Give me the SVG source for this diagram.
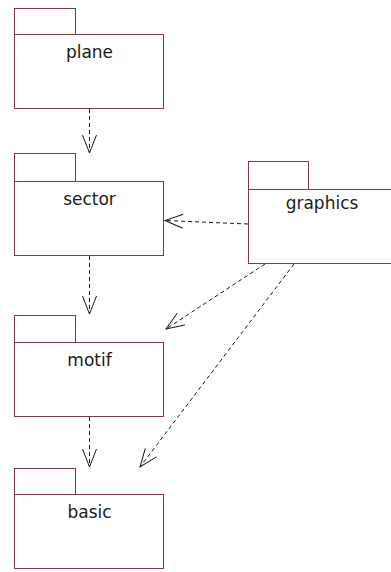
<svg xmlns="http://www.w3.org/2000/svg" width="391" height="572" viewBox="0 0 391 572">
  <style>
    .pkg rect { fill: #ffffff; stroke: #7f3a44; stroke-width: 1; }
    .pkg text { font-family: "DejaVu Sans", "Liberation Sans", sans-serif; font-size: 17px; fill: #1a1a1a; text-anchor: middle; }
    .dep { fill: none; stroke: #1a1a1a; stroke-width: 1; stroke-dasharray: 4,3; }
  </style>
  <defs>
    <marker id="open" markerUnits="userSpaceOnUse" markerWidth="20" markerHeight="16" refX="18" refY="8" orient="auto" overflow="visible">
      <path d="M0,1 L18,8 L0,15" fill="none" stroke="#1a1a1a" stroke-width="1"/>
    </marker>
  </defs>
  <rect width="391" height="572" fill="#ffffff"/>

  <g id="plane" class="pkg">
    <rect x="14.5" y="8.5" width="61" height="26"/>
    <rect x="14.5" y="34.5" width="149" height="74"/>
    <text x="89.5" y="57.5">plane</text>
  </g>
  <g id="sector" class="pkg">
    <rect x="14.5" y="153.5" width="61" height="28"/>
    <rect x="14.5" y="181.5" width="149" height="74"/>
    <text x="89.5" y="204.5">sector</text>
  </g>
  <g id="motif" class="pkg">
    <rect x="14.5" y="315.5" width="61" height="27"/>
    <rect x="14.5" y="342.5" width="149" height="74"/>
    <text x="89.5" y="365.5">motif</text>
  </g>
  <g id="basic" class="pkg">
    <rect x="14.5" y="468.5" width="61" height="26"/>
    <rect x="14.5" y="494.5" width="149" height="74"/>
    <text x="89.5" y="517.5">basic</text>
  </g>
  <g id="graphics" class="pkg">
    <rect x="248.5" y="161.5" width="60" height="28"/>
    <rect x="248.5" y="189.5" width="150" height="74"/>
    <text x="322" y="209">graphics</text>
  </g>

  <g id="connectors">
    <line class="dep" x1="89.5" y1="109" x2="89.5" y2="153" marker-end="url(#open)"/>
    <line class="dep" x1="89.5" y1="256" x2="89.5" y2="314" marker-end="url(#open)"/>
    <line class="dep" x1="89.5" y1="417" x2="89.5" y2="467" marker-end="url(#open)"/>
    <line class="dep" x1="248" y1="224" x2="165" y2="220.5" marker-end="url(#open)"/>
    <line class="dep" x1="265" y1="264" x2="166" y2="329" marker-end="url(#open)"/>
    <line class="dep" x1="294" y1="264" x2="140" y2="467" marker-end="url(#open)"/>
  </g>
</svg>
